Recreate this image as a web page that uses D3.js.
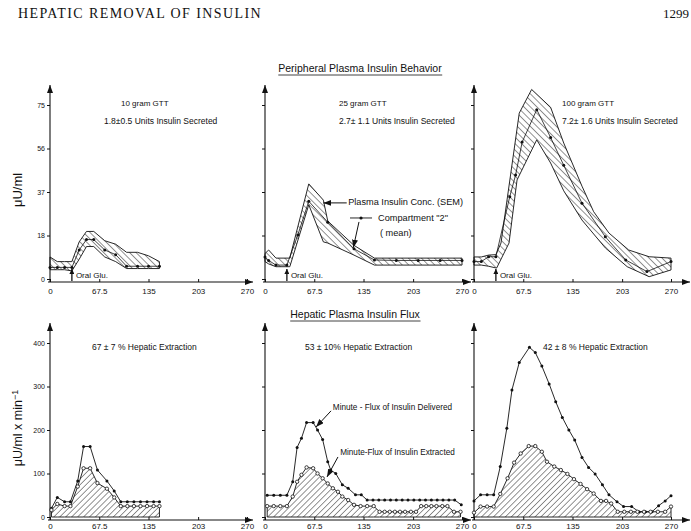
<!DOCTYPE html>
<html>
<head>
<meta charset="utf-8">
<script src="https://cdn.jsdelivr.net/npm/d3@7"></script>
<style>
  body { margin: 0; background: #fff; }
  text { font-family: "Liberation Sans", Arial, sans-serif; fill: #111; }
</style>
</head>
<body>
<div id="chart"></div>
<script>
// x axis (minutes) and y tick values
const xTicks = [0, 67.5, 135, 203, 270];
const xTickLabels = ['0', '67.5', '135', '203', '270'];
const topTicks = [0, 18.75, 37.5, 56.25, 75];
const topTickLabels = ['0', '18', '37', '56', '75'];
const botTicks = [0, 100, 200, 300, 400];
const botTickLabels = ['0', '100', '200', '300', '400'];

// --- Peripheral plasma insulin (µU/ml) ---
// 10 gram GTT
const p1Time  = [0, 10, 20, 30, 40, 50, 60, 75, 90, 105, 120, 135, 150];
const p1Upper = [9.5, 7.5, 7.5, 7.5, 16, 20.5, 20.5, 16.5, 15, 11.5, 11.5, 10, 7.5];
const p1Lower = [4, 4, 4, 3.5, 8.5, 14, 14, 9.5, 7.5, 4.5, 4.5, 4.5, 4.5];
const p1Mean  = [5, 5, 5, 5, 12.5, 17, 17, 12.5, 10.5, 5.5, 5.5, 5.5, 5.5];

// 25 gram GTT
const p2BandTime = [0, 5, 15, 34, 60, 80, 86, 122, 150, 270];
const p2Upper    = [11, 12.5, 9, 9, 41, 34, 25, 14.5, 9, 9];
const p2Lower    = [7.5, 6.5, 5.3, 5.3, 32, 16, 15.5, 10.3, 6, 6];
const p2MeanTime = [0, 5, 15, 30, 45, 60, 86, 122, 150, 180, 210, 240, 270];
const p2Mean     = [9.5, 8, 6, 6, 19, 33.5, 24.5, 13, 8.2, 8, 8, 8, 8];

// 100 gram GTT
const p3UpperTime = [0, 10, 20, 30, 37, 62, 79, 105, 123, 148, 164, 185, 212, 240, 270];
const p3Upper     = [9.5, 9.5, 10.3, 10.5, 15.5, 71.5, 81.7, 74, 58.6, 40, 29, 19.8, 12.5, 9.6, 9];
const p3LowerTime = [0, 10, 20, 31, 48, 59, 86, 105, 123, 148, 180, 210, 240, 270];
const p3Lower     = [6, 6, 5.5, 4.7, 15.5, 42.7, 60, 50, 38, 25.4, 13.4, 5.3, 1, 3.9];
const p3MeanTime  = [0, 10, 20, 30, 49, 57, 66, 86, 105, 123, 148, 180, 208, 237, 270];
const p3Mean      = [7.5, 7.5, 9.6, 9.6, 35.5, 44.8, 59, 73, 61, 49, 32.7, 18.2, 8.2, 3.2, 7.5];

// --- Hepatic plasma insulin flux (µU/ml x min-1) ---
const f1Time  = [2, 10, 20, 28, 38, 46, 55, 65, 78, 88, 97, 106, 115, 124, 133, 142, 150];
const f1Deliv = [20, 45, 35, 35, 83, 162, 162, 108, 83, 60, 35, 35, 35, 35, 35, 35, 35];
const f1Extr  = [16, 30, 25, 25, 70, 112, 112, 78, 65, 45, 25, 25, 25, 25, 25, 25, 25];

const f2DelivTime = [3, 12, 21, 30, 38, 44, 50, 57, 66, 72, 79, 86, 90, 97, 106, 114, 124, 132, 140, 148, 156, 164, 172, 180, 188, 196, 204, 212, 220, 228, 236, 244, 252, 260, 269];
const f2Deliv     = [50, 50, 50, 50, 81, 160, 181, 217, 217, 200, 178, 127, 108, 100, 74, 66, 51, 51, 39, 39, 39, 39, 39, 39, 39, 39, 39, 39, 39, 39, 39, 39, 39, 39, 28];
const f2ExtrTime  = [3, 12, 21, 30, 38, 44, 50, 57, 66, 72, 79, 86, 93, 100, 106, 114, 122, 131, 140, 149, 157, 164, 171, 178, 185, 192, 200, 207, 214, 221, 228, 235, 243, 250, 259, 268];
const f2Extr      = [25, 25, 25, 25, 47, 81, 97, 114, 112, 100, 89, 77, 66, 58, 47, 39, 28, 25, 25, 25, 12, 12, 12, 12, 12, 12, 12, 12, 25, 25, 25, 25, 25, 25, 12, 12];

const f3DelivTime = [0, 9, 18, 27, 36, 45, 52, 62, 76, 84, 93, 103, 112, 121, 130, 138, 148, 157, 166, 176, 185, 196, 205, 216, 226, 235, 244, 253, 262, 270];
const f3Deliv     = [37, 51, 51, 51, 116, 204, 292, 355, 390, 378, 347, 306, 265, 229, 200, 177, 137, 114, 99, 74, 51, 35, 24, 24, 12, 12, 12, 26, 37, 49];
const f3ExtrTime  = [0, 9, 18, 27, 36, 46, 55, 64, 75, 84, 93, 100, 110, 119, 128, 137, 146, 155, 164, 174, 181, 188, 197, 206, 215, 224, 233, 242, 252, 262, 270];
const f3Extr      = [10, 24, 24, 24, 53, 89, 125, 146, 163, 163, 150, 127, 116, 108, 99, 87, 76, 64, 54, 37, 37, 31, 12, 12, 12, 12, 12, 12, 12, 12, 24];

const topTitles = [
  ['10 gram GTT', '1.8\u00b10.5 Units Insulin Secreted'],
  ['25 gram GTT', '2.7\u00b1 1.1 Units Insulin Secreted'],
  ['100 gram GTT', '7.2\u00b1 1.6 Units Insulin Secreted']
];
const botTitles = ['67 \u00b1 7 % Hepatic Extraction', '53 \u00b1 10% Hepatic Extraction', '42 \u00b1 8 % Hepatic Extraction'];

// layout
const W = 691, H = 531;
const panelX0 = [50, 265, 474];
const panelXEnd = [253, 471, 690];
const plotW = 197;
const topTitleDx = [[71, 54], [74, 74], [88, 88]];
const botTitleDx = [42, 40, 69];

const svg = d3.select('#chart').append('svg').attr('width', W).attr('height', H);
svg.append('rect').attr('width', W).attr('height', H).attr('fill', '#fff');

const defs = svg.append('defs');
function hatch(id, angle, gap) {
  const p = defs.append('pattern').attr('id', id)
    .attr('patternUnits', 'userSpaceOnUse')
    .attr('width', gap).attr('height', gap)
    .attr('patternTransform', `rotate(${angle})`);
  p.append('line').attr('x1', 0).attr('y1', 0).attr('x2', 0).attr('y2', gap)
    .attr('stroke', '#111').attr('stroke-width', 0.9);
}
hatch('hatchTop', -45, 4.6);
hatch('hatchBot', 45, 4.2);

defs.append('marker').attr('id', 'arrow')
  .attr('markerUnits', 'userSpaceOnUse')
  .attr('viewBox', '0 0 8 6').attr('refX', 8).attr('refY', 3)
  .attr('markerWidth', 8).attr('markerHeight', 6).attr('orient', 'auto')
  .append('path').attr('d', 'M0,0L8,3L0,6Z').attr('fill', '#111');
defs.append('marker').attr('id', 'arrowSmall')
  .attr('markerUnits', 'userSpaceOnUse')
  .attr('viewBox', '0 0 6 6').attr('refX', 6).attr('refY', 3)
  .attr('markerWidth', 6).attr('markerHeight', 5).attr('orient', 'auto')
  .append('path').attr('d', 'M0,0L6,3L0,6Z').attr('fill', '#111');

// header
svg.append('text').attr('x', 18).attr('y', 18)
  .style('font-family', '"Liberation Serif", serif').style('font-size', '14px')
  .style('letter-spacing', '1.4px').text('HEPATIC REMOVAL OF INSULIN');
svg.append('text').attr('x', 663).attr('y', 18)
  .style('font-family', '"Liberation Serif", serif').style('font-size', '13px')
  .text('1299');

function underlinedTitle(cx, y, txt) {
  const t = svg.append('text').attr('x', cx).attr('y', y).attr('text-anchor', 'middle')
    .style('font-size', '10.5px').text(txt);
  const bb = t.node().getBBox();
  svg.append('line').attr('x1', bb.x).attr('x2', bb.x + bb.width)
    .attr('y1', y + 3).attr('y2', y + 3).attr('stroke', '#111').attr('stroke-width', 0.8);
}
underlinedTitle(360, 72, 'Peripheral Plasma Insulin Behavior');
underlinedTitle(355, 318, 'Hepatic Plasma Insulin Flux');

// y axis titles
svg.append('text').attr('transform', 'translate(22,190) rotate(-90)')
  .attr('text-anchor', 'middle').style('font-size', '13px').text('\u03bcU/ml');
const yt = svg.append('text').attr('transform', 'translate(22,428) rotate(-90)')
  .attr('text-anchor', 'middle').style('font-size', '12.5px');
yt.append('tspan').text('\u03bcU/ml x min');
yt.append('tspan').attr('dy', -4).style('font-size', '9px').text('\u22121');

const yTop = d3.scaleLinear().domain([0, 75]).range([279, 105]);
const yBot = d3.scaleLinear().domain([0, 400]).range([517, 343]);

function drawAxes(i, x, y, ticks, labels, arrowTop, pad) {
  const g = svg.append('g');
  const x0 = panelX0[i];
  const base = y(0) + 3;
  // y axis line with arrow
  g.append('line').attr('x1', x0).attr('x2', x0).attr('y1', base).attr('y2', arrowTop)
    .attr('stroke', '#111').attr('stroke-width', 1.1).attr('marker-end', 'url(#arrow)');
  const ya = d3.axisLeft(y).tickValues(ticks).tickSize(3).tickPadding(2)
    .tickFormat((d, k) => i === 0 ? labels[k] : '');
  const yg = g.append('g').attr('transform', `translate(${x0},0)`).call(ya);
  yg.select('.domain').remove();
  yg.selectAll('line').attr('stroke', '#111');
  yg.selectAll('text').style('font-size', '7px').style('font-family', '"Liberation Sans", Arial, sans-serif');
  // x axis
  g.append('line').attr('x1', x0 - 2).attr('x2', panelXEnd[i]).attr('y1', base).attr('y2', base)
    .attr('stroke', '#111').attr('stroke-width', 1.1).attr('marker-end', 'url(#arrow)');
  const xa = d3.axisBottom(x).tickValues(xTicks).tickSize(-3).tickPadding(pad)
    .tickFormat((d, k) => xTickLabels[k]);
  const xg = g.append('g').attr('transform', `translate(0,${base})`).call(xa);
  xg.select('.domain').remove();
  xg.selectAll('line').attr('stroke', '#111');
  xg.selectAll('text').style('font-size', '8px').style('font-family', '"Liberation Sans", Arial, sans-serif');
}

function pts(x, y, t, v) { return t.map((d, k) => [x(d), y(v[k])]); }

const topPanels = [
  { uT: p1Time, up: p1Upper, lT: p1Time, lo: p1Lower, mT: p1Time, mean: p1Mean },
  { uT: p2BandTime, up: p2Upper, lT: p2BandTime, lo: p2Lower, mT: p2MeanTime, mean: p2Mean },
  { uT: p3UpperTime, up: p3Upper, lT: p3LowerTime, lo: p3Lower, mT: p3MeanTime, mean: p3Mean }
];

topPanels.forEach((p, i) => {
  const x = d3.scaleLinear().domain([0, 270]).range([panelX0[i], panelX0[i] + plotW]);
  drawAxes(i, x, yTop, topTicks, topTickLabels, 85, 6);
  const poly = pts(x, yTop, p.uT, p.up).concat(pts(x, yTop, p.lT, p.lo).reverse());
  svg.append('path').attr('d', d3.line()(poly) + 'Z')
    .attr('fill', 'url(#hatchTop)').attr('stroke', '#111').attr('stroke-width', 0.9);
  const mp = pts(x, yTop, p.mT, p.mean);
  svg.append('path').attr('d', d3.line()(mp)).attr('fill', 'none')
    .attr('stroke', '#111').attr('stroke-width', 0.8);
  svg.append('g').selectAll('circle').data(mp).join('circle')
    .attr('cx', d => d[0]).attr('cy', d => d[1]).attr('r', 1.5).attr('fill', '#111');

  // oral glucose marker at 30 min
  svg.append('line').attr('x1', x(30)).attr('x2', x(30))
    .attr('y1', yTop(0) + 2).attr('y2', yTop(0) - 10)
    .attr('stroke', '#111').attr('stroke-width', 1.3).attr('marker-end', 'url(#arrowSmall)');
  svg.append('text').attr('x', x(30) + 4).attr('y', yTop(0) - 1)
    .style('font-size', '8px').text('Oral Glu.');

  svg.append('text').attr('x', panelX0[i] + topTitleDx[i][0]).attr('y', 106)
    .style('font-size', '8px').text(topTitles[i][0]);
  svg.append('text').attr('x', panelX0[i] + topTitleDx[i][1]).attr('y', 124)
    .style('font-size', '8.5px').text(topTitles[i][1]);

  if (i === 1) {
    // legend for the middle panel
    svg.append('line').attr('x1', x(112)).attr('y1', yTop(32.8)).attr('x2', x(80)).attr('y2', yTop(32.8))
      .attr('stroke', '#111').attr('stroke-width', 1).attr('marker-end', 'url(#arrow)');
    svg.append('text').attr('x', x(114)).attr('y', yTop(31.9)).style('font-size', '9.2px')
      .text('Plasma Insulin Conc. (SEM)');
    svg.append('line').attr('x1', x(116.5)).attr('x2', x(146.7)).attr('y1', yTop(26.3)).attr('y2', yTop(26.3))
      .attr('stroke', '#111').attr('stroke-width', 0.9);
    svg.append('circle').attr('cx', x(131.6)).attr('cy', yTop(26.3)).attr('r', 1.6).attr('fill', '#111');
    svg.append('text').attr('x', x(155)).attr('y', yTop(25.2)).style('font-size', '9.2px')
      .text('Compartment "2"');
    svg.append('text').attr('x', x(157.6)).attr('y', yTop(18.75)).style('font-size', '9.2px')
      .text('( mean)');
    svg.append('line').attr('x1', x(128.8)).attr('y1', yTop(24.6)).attr('x2', x(121)).attr('y2', yTop(13.5))
      .attr('stroke', '#111').attr('stroke-width', 1).attr('marker-end', 'url(#arrow)');
  }
});

const botPanels = [
  { dT: f1Time, del: f1Deliv, eT: f1Time, ext: f1Extr },
  { dT: f2DelivTime, del: f2Deliv, eT: f2ExtrTime, ext: f2Extr },
  { dT: f3DelivTime, del: f3Deliv, eT: f3ExtrTime, ext: f3Extr }
];

botPanels.forEach((p, i) => {
  const x = d3.scaleLinear().domain([0, 270]).range([panelX0[i], panelX0[i] + plotW]);
  drawAxes(i, x, yBot, botTicks, botTickLabels, 323, 3);

  const area = d3.area().x(d => x(d[0])).y0(yBot(0)).y1(d => yBot(d[1]));
  const ed = p.eT.map((t, k) => [t, p.ext[k]]);
  svg.append('path').attr('d', area(ed)).attr('fill', 'url(#hatchBot)')
    .attr('stroke', '#111').attr('stroke-width', 0.9);

  const dp = pts(x, yBot, p.dT, p.del);
  svg.append('path').attr('d', d3.line()(dp)).attr('fill', 'none')
    .attr('stroke', '#111').attr('stroke-width', 0.9);
  svg.append('g').selectAll('circle').data(dp).join('circle')
    .attr('cx', d => d[0]).attr('cy', d => d[1]).attr('r', 1.5).attr('fill', '#111');

  const ep = pts(x, yBot, p.eT, p.ext);
  svg.append('g').selectAll('circle').data(ep).join('circle')
    .attr('cx', d => d[0]).attr('cy', d => d[1]).attr('r', 1.7)
    .attr('fill', '#fff').attr('stroke', '#111').attr('stroke-width', 0.8);

  svg.append('text').attr('x', panelX0[i] + botTitleDx[i]).attr('y', 350)
    .style('font-size', '8.5px').text(botTitles[i]);

  if (i === 1) {
    svg.append('text').attr('x', x(93)).attr('y', yBot(246)).style('font-size', '8.2px')
      .text('Minute - Flux of Insulin Delivered');
    svg.append('line').attr('x1', x(90.5)).attr('y1', yBot(244)).attr('x2', x(70)).attr('y2', yBot(207))
      .attr('stroke', '#111').attr('stroke-width', 1).attr('marker-end', 'url(#arrow)');
    svg.append('text').attr('x', x(103)).attr('y', yBot(142.5)).style('font-size', '8.2px')
      .text('Minute-Flux of Insulin Extracted');
    svg.append('line').attr('x1', x(100)).attr('y1', yBot(138)).attr('x2', x(85)).attr('y2', yBot(92))
      .attr('stroke', '#111').attr('stroke-width', 1).attr('marker-end', 'url(#arrow)');
  }
});
</script>
</body>
</html>
